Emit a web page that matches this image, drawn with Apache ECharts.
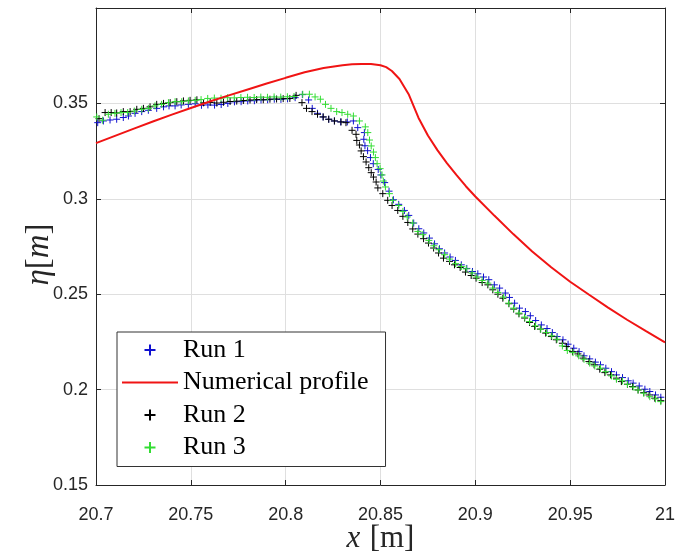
<!DOCTYPE html>
<html>
<head>
<meta charset="utf-8">
<script src="https://cdn.jsdelivr.net/npm/echarts@6/dist/echarts.min.js"></script>
<style>html,body{margin:0;padding:0;background:#fff;}#c{width:675px;height:555px;}</style>
</head>
<body>
<div id="c"></div>
<script>
// ---- data ----
var xTicks = [20.7, 20.75, 20.8, 20.85, 20.9, 20.95, 21];
var yTicks = [0.15, 0.2, 0.25, 0.3, 0.35];

var run1X = [20.7009,20.7039,20.7074,20.7109,20.7144,20.7171,20.7206,20.7241,20.7276,20.7320,20.7356,20.7385,20.7417,20.7449,20.7487,20.7523,20.7556,20.7590,20.7625,20.7660,20.7695,20.7730,20.7765,20.7800,20.7835,20.7870,20.7905,20.7940,20.7975,20.8010,20.8050,20.8088,20.8121,20.8140,20.8168,20.8197,20.8227,20.8257,20.8290,20.8325,20.8357,20.8380,20.8415,20.8412,20.8418,20.8432,20.8447,20.8462,20.8488,20.8502,20.8522,20.8545,20.8568,20.8596,20.8626,20.8649,20.8675,20.8702,20.8728,20.8758,20.8785,20.8811,20.8838,20.8867,20.8895,20.8926,20.8955,20.8985,20.9013,20.9043,20.9071,20.9100,20.9128,20.9158,20.9180,20.9207,20.9233,20.9264,20.9290,20.9318,20.9348,20.9378,20.9406,20.9431,20.9462,20.9489,20.9519,20.9547,20.9573,20.9603,20.9633,20.9660,20.9688,20.9718,20.9744,20.9776,20.9806,20.9832,20.9864,20.9894,20.9920,20.9950,20.9978];
var run1Y = [0.3399,0.3408,0.3413,0.3417,0.3426,0.3434,0.3448,0.3457,0.3464,0.3474,0.3482,0.3487,0.3487,0.3492,0.3495,0.3498,0.3490,0.3492,0.3491,0.3494,0.3500,0.3508,0.3509,0.3513,0.3514,0.3518,0.3519,0.3522,0.3521,0.3524,0.3530,0.3546,0.3518,0.3474,0.3448,0.3429,0.3417,0.3408,0.3403,0.3403,0.3408,0.3373,0.3347,0.3312,0.3278,0.3252,0.3216,0.3184,0.3154,0.3125,0.3085,0.3040,0.2995,0.2971,0.2939,0.2913,0.2873,0.2843,0.2821,0.2794,0.2764,0.2738,0.2716,0.2695,0.2677,0.2654,0.2635,0.2619,0.2607,0.2590,0.2576,0.2549,0.2532,0.2506,0.2483,0.2453,0.2427,0.2409,0.2387,0.2362,0.2339,0.2320,0.2299,0.2278,0.2261,0.2238,0.2217,0.2199,0.2177,0.2161,0.2144,0.2130,0.2112,0.2094,0.2077,0.2063,0.2046,0.2034,0.2019,0.2002,0.1990,0.1972,0.1960];

var numX = [20.70,20.71,20.72,20.73,20.74,20.75,20.76,20.77,20.78,20.79,20.80,20.81,20.82,20.83,20.835,20.84,20.845,20.85,20.853,20.856,20.86,20.865,20.87,20.875,20.88,20.885,20.89,20.895,20.90,20.91,20.92,20.93,20.94,20.95,20.96,20.97,20.98,20.99,21.00];
var numY = [0.3292,0.3330,0.3368,0.3405,0.3441,0.3476,0.3510,0.3542,0.3573,0.3604,0.3634,0.3663,0.3686,0.3700,0.3705,0.3707,0.3707,0.3700,0.3690,0.3670,0.3628,0.3545,0.3425,0.3332,0.3255,0.3187,0.3125,0.3066,0.3012,0.2912,0.2815,0.2724,0.2641,0.2565,0.2497,0.2430,0.2366,0.2306,0.2248];

var run2X = [20.7016,20.7048,20.7080,20.7109,20.7144,20.7180,20.7215,20.7250,20.7285,20.7320,20.7356,20.7391,20.7426,20.7461,20.7496,20.7532,20.7567,20.7602,20.7637,20.7672,20.7707,20.7742,20.7777,20.7812,20.7847,20.7882,20.7917,20.7952,20.7987,20.8022,20.8055,20.8086,20.8110,20.8139,20.8168,20.8198,20.8227,20.8257,20.8292,20.8318,20.8350,20.8371,20.8375,20.8389,20.8398,20.8410,20.8424,20.8438,20.8451,20.8463,20.8477,20.8486,20.8512,20.8538,20.8561,20.8591,20.8618,20.8644,20.8670,20.8697,20.8727,20.8753,20.8780,20.8806,20.8832,20.8864,20.8890,20.8920,20.8948,20.8978,20.9004,20.9036,20.9066,20.9092,20.9119,20.9145,20.9177,20.9202,20.9230,20.9260,20.9286,20.9313,20.9343,20.9371,20.9401,20.9427,20.9459,20.9480,20.9512,20.9541,20.9568,20.9599,20.9626,20.9656,20.9683,20.9713,20.9744,20.9770,20.9802,20.9829,20.9858,20.9888,20.9916,20.9946,20.9978];
var run2Y = [0.3420,0.3452,0.3452,0.3450,0.3457,0.3457,0.3469,0.3474,0.3482,0.3495,0.3500,0.3504,0.3509,0.3513,0.3516,0.3519,0.3503,0.3505,0.3502,0.3506,0.3510,0.3512,0.3515,0.3518,0.3520,0.3519,0.3522,0.3523,0.3525,0.3526,0.3542,0.3504,0.3474,0.3457,0.3443,0.3429,0.3417,0.3408,0.3403,0.3399,0.3359,0.3338,0.3306,0.3282,0.3251,0.3221,0.3193,0.3163,0.3137,0.3114,0.3088,0.3057,0.3027,0.2992,0.2965,0.2939,0.2908,0.2876,0.2842,0.2815,0.2791,0.2768,0.2742,0.2716,0.2689,0.2672,0.2654,0.2640,0.2616,0.2598,0.2584,0.2561,0.2549,0.2523,0.2500,0.2479,0.2450,0.2422,0.2397,0.2375,0.2352,0.2331,0.2317,0.2296,0.2278,0.2261,0.2243,0.2226,0.2199,0.2187,0.2165,0.2147,0.2130,0.2107,0.2089,0.2077,0.2060,0.2042,0.2028,0.2016,0.1998,0.1984,0.1972,0.1955,0.1942];

var run3X = [20.7004,20.7035,20.7065,20.7100,20.7132,20.7167,20.7202,20.7241,20.7276,20.7311,20.7346,20.7382,20.7417,20.7452,20.7487,20.7523,20.7554,20.7589,20.7624,20.7659,20.7694,20.7729,20.7764,20.7799,20.7834,20.7869,20.7904,20.7939,20.7974,20.8009,20.8044,20.8090,20.8125,20.8155,20.8183,20.8210,20.8239,20.8269,20.8297,20.8327,20.8357,20.8389,20.8420,20.8433,20.8442,20.8451,20.8463,20.8473,20.8482,20.8498,20.8508,20.8515,20.8526,20.8547,20.8564,20.8596,20.8618,20.8641,20.8670,20.8697,20.8723,20.8755,20.8781,20.8808,20.8838,20.8864,20.8896,20.8926,20.8952,20.8983,20.9008,20.9036,20.9066,20.9092,20.9119,20.9149,20.9176,20.9202,20.9230,20.9260,20.9286,20.9317,20.9345,20.9375,20.9403,20.9431,20.9459,20.9485,20.9515,20.9545,20.9573,20.9603,20.9630,20.9660,20.9688,20.9718,20.9744,20.9776,20.9802,20.9832,20.9858,20.9888,20.9920,20.9950,20.9978];
var run3Y = [0.3429,0.3412,0.3443,0.3448,0.3452,0.3452,0.3460,0.3469,0.3474,0.3487,0.3495,0.3504,0.3509,0.3509,0.3513,0.3516,0.3520,0.3526,0.3528,0.3527,0.3530,0.3529,0.3531,0.3532,0.3531,0.3533,0.3532,0.3534,0.3533,0.3535,0.3536,0.3548,0.3548,0.3534,0.3522,0.3495,0.3474,0.3457,0.3452,0.3443,0.3434,0.3408,0.3377,0.3347,0.3308,0.3277,0.3245,0.3216,0.3184,0.3158,0.3125,0.3093,0.3062,0.3027,0.2992,0.2965,0.2934,0.2905,0.2873,0.2829,0.2812,0.2782,0.2754,0.2733,0.2707,0.2684,0.2660,0.2645,0.2633,0.2611,0.2590,0.2572,0.2558,0.2532,0.2509,0.2485,0.2453,0.2427,0.2401,0.2380,0.2357,0.2334,0.2317,0.2299,0.2282,0.2264,0.2229,0.2205,0.2194,0.2177,0.2159,0.2139,0.2124,0.2112,0.2094,0.2072,0.2054,0.2046,0.2028,0.2013,0.1998,0.1981,0.1963,0.1951,0.1937];

// ---- build ----
function pairs(xs, ys) { return xs.map(function (x, i) { return [x, ys[i]]; }); }
var PLUS = 'path://M0,5L10,5M5,0L5,10';
var AX = '#262626';
var tickFont = { fontFamily: '"Liberation Sans", Arial, sans-serif', fontSize: 18, color: AX };
var SERIF = '"Liberation Serif", "DejaVu Serif", serif';

function plusSeries(name, xs, ys, color) {
  return {
    name: name, type: 'scatter', data: pairs(xs, ys),
    symbol: PLUS, symbolSize: 7,
    itemStyle: { color: color, borderColor: color, borderWidth: 1, opacity: 1 },
    emphasis: { disabled: true }, animation: false
  };
}

var chart = echarts.init(document.getElementById('c'), null, { renderer: 'canvas' });
chart.setOption({
  backgroundColor: '#fff',
  animation: false,
  grid: { left: 96, right: 10, top: 8, bottom: 70, containLabel: false, outerBoundsMode: 'none' },
  xAxis: [{
    type: 'value', min: xTicks[0], max: xTicks[xTicks.length - 1], interval: 0.05,
    axisLine: { show: true, onZero: false, lineStyle: { color: AX, width: 1 } },
    axisTick: { show: true, inside: true, length: 5, lineStyle: { color: AX } },
    axisLabel: Object.assign({ margin: 21 }, tickFont),
    splitLine: { show: true, lineStyle: { color: '#dfdfdf', width: 1 } },
    name: '{i|x} {n|[m]}', nameLocation: 'middle', nameGap: 38, nameMoveOverlap: false,
    nameTextStyle: { rich: {
      i: { fontFamily: SERIF, fontStyle: 'italic', fontSize: 31, color: AX, padding: [0, 6, 0, 0] },
      n: { fontFamily: SERIF, fontSize: 31, color: AX }
    } }
  }, {
    type: 'value', position: 'top', min: xTicks[0], max: xTicks[xTicks.length - 1], interval: 0.05,
    axisLine: { show: true, onZero: false, lineStyle: { color: AX, width: 1 } },
    axisTick: { show: true, inside: true, length: 5, lineStyle: { color: AX } },
    axisLabel: { show: false }, splitLine: { show: false }
  }],
  yAxis: [{
    type: 'value', min: 0.15, max: 0.40, interval: 0.05,
    axisLine: { show: true, onZero: false, lineStyle: { color: AX, width: 1 } },
    axisTick: { show: true, inside: true, length: 5, lineStyle: { color: AX } },
    axisLabel: Object.assign({ margin: 8, showMaxLabel: false,
      formatter: function (v) { return yTicks.indexOf(Math.round(v * 100) / 100) >= 0 ? String(Math.round(v * 100) / 100) : ''; } }, tickFont),
    splitLine: { show: true, lineStyle: { color: '#dfdfdf', width: 1 } },
    name: '{i|\u03B7}{n|[}{i|m}{n|]}', nameLocation: 'middle', nameGap: 40, nameRotate: 90, nameMoveOverlap: false,
    nameTextStyle: { padding: [0, 16, 0, 0], rich: {
      i: { fontFamily: SERIF, fontStyle: 'italic', fontSize: 33, color: AX },
      n: { fontFamily: SERIF, fontSize: 33, color: AX }
    } }
  }, {
    type: 'value', position: 'right', min: 0.15, max: 0.40, interval: 0.05,
    axisLine: { show: true, onZero: false, lineStyle: { color: AX, width: 1 } },
    axisTick: { show: true, inside: true, length: 5, lineStyle: { color: AX } },
    axisLabel: { show: false }, splitLine: { show: false }
  }],
  legend: {
    orient: 'vertical', left: 117, top: 332,
    padding: [5, 17, 6, 5], itemGap: 6.5, itemWidth: 56, itemHeight: 11,
    backgroundColor: '#fff', borderColor: '#333', borderWidth: 1, borderRadius: 0,
    textStyle: { fontFamily: SERIF, fontSize: 26, color: '#000' },
    selectedMode: false,
    data: [
      { name: 'Run 1' },
      { name: 'Numerical profile', icon: 'path://M0,0L56,0L56,2L0,2Z' },
      { name: 'Run 2' },
      { name: 'Run 3' }
    ]
  },
  series: [
    plusSeries('Run 1', run1X, run1Y, '#1010d0'),
    {
      name: 'Numerical profile', type: 'line', data: pairs(numX, numY),
      showSymbol: false, symbol: 'none', smooth: false,
      lineStyle: { color: '#f01414', width: 2 }, itemStyle: { color: '#f01414' },
      emphasis: { disabled: true }, animation: false
    },
    plusSeries('Run 2', run2X, run2Y, '#000000'),
    plusSeries('Run 3', run3X, run3Y, '#33dd33')
  ]
});
</script>
</body>
</html>
